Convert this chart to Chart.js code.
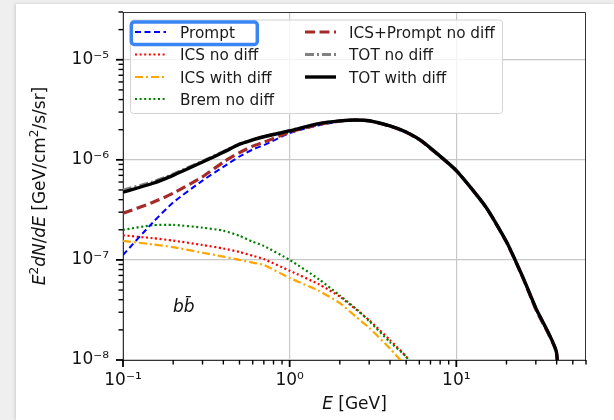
<!DOCTYPE html>
<html>
<head>
<meta charset="utf-8">
<script src="https://cdn.jsdelivr.net/npm/chart.js@4.4.1/dist/chart.umd.min.js"></script>
<style>
html, body { margin: 0; padding: 0; }
body { width: 614px; height: 420px; background: #efefef; position: relative; overflow: hidden; }
#sheet { position: absolute; left: 16px; top: 4px; right: 0; bottom: 0; background: #fff; box-shadow: -1px 0 3px rgba(0,0,0,0.15); }
#wrap { position: absolute; left: 0; top: 0; width: 614px; height: 420px; }
</style>
</head>
<body>
<div id="sheet"></div>
<div id="wrap"><canvas id="c" width="614" height="420"></canvas></div>
<script>
// energies in GeV (last point repeated for the cut-off at the DM mass)
const energy = [0.1, 0.15, 0.2, 0.3, 0.4, 0.5, 0.6, 0.7, 1, 1.5, 2, 2.5, 3, 4, 5, 6, 7, 10, 15, 20, 25, 30, 40, 40];

const prompt = [1.12e-7, 2.34e-7, 3.75e-7, 6.2e-7, 8.5e-7, 1.08e-6, 1.27e-6, 1.4e-6, 1.85e-6, 2.22e-6, 2.41e-6, 2.47e-6, 2.44e-6, 2.16e-6, 1.87e-6, 1.58e-6, 1.3e-6, 7.8e-7, 3.4e-7, 1.5e-7, 6.7e-8, 3.2e-8, 1.15e-8, 1e-9];
const icsNoDiff = [1.76e-7, 1.65e-7, 1.56e-7, 1.41e-7, 1.3e-7, 1.2e-7, 1.1e-7, 1.02e-7, 7.8e-8, 5.7e-8, 4.3e-8, 3.2e-8, 2.5e-8, 1.58e-8, 1.08e-8, 6.8e-9, null, null, null, null, null, null, null, null];
const icsWithDiff = [1.55e-7, 1.43e-7, 1.34e-7, 1.18e-7, 1.08e-7, 1.0e-7, 9.4e-8, 8.9e-8, 6.6e-8, 4.9e-8, 3.7e-8, 2.7e-8, 2.1e-8, 1.3e-8, 8.6e-9, null, null, null, null, null, null, null, null, null];
const bremNoDiff = [2.0e-7, 2.22e-7, 2.24e-7, 2.1e-7, 1.96e-7, 1.74e-7, 1.52e-7, 1.38e-7, 1.0e-7, 6.4e-8, 4.4e-8, 3.26e-8, 2.45e-8, 1.51e-8, 1.08e-8, 7e-9, null, null, null, null, null, null, null, null];
const icsPromptNoDiff = [2.93e-7, 3.74e-7, 4.64e-7, 6.76e-7, 9.5e-7, 1.18e-6, 1.37e-6, 1.5e-6, 1.89e-6, 2.26e-6, 2.44e-6, 2.49e-6, 2.45e-6, 2.17e-6, 1.88e-6, 1.59e-6, 1.3e-6, 7.8e-7, 3.4e-7, 1.5e-7, 6.7e-8, 3.2e-8, 1.15e-8, 1e-9];
const totNoDiff = [5.0e-7, 6.0e-7, 7.2e-7, 9.7e-7, 1.21e-6, 1.44e-6, 1.59e-6, 1.71e-6, 1.96e-6, 2.3e-6, 2.45e-6, 2.5e-6, 2.46e-6, 2.18e-6, 1.9e-6, 1.6e-6, 1.31e-6, 7.8e-7, 3.4e-7, 1.52e-7, 6.8e-8, 3.3e-8, 1.17e-8, 1e-9];
const totWithDiff = [4.75e-7, 5.8e-7, 7.0e-7, 9.5e-7, 1.19e-6, 1.43e-6, 1.58e-6, 1.7e-6, 1.95e-6, 2.3e-6, 2.45e-6, 2.5e-6, 2.46e-6, 2.18e-6, 1.9e-6, 1.6e-6, 1.31e-6, 7.8e-7, 3.4e-7, 1.52e-7, 6.8e-8, 3.3e-8, 1.17e-8, 1e-9];

const xTickValues = [0.1, 1, 10];
const xTickLabels = ['10\u207B\u00B9', '10\u2070', '10\u00B9'];
const yTickValues = [1e-8, 1e-7, 1e-6, 1e-5];
const yTickLabels = ['10\u207B\u2078', '10\u207B\u2077', '10\u207B\u2076', '10\u207B\u2075'];

const FONT = '"DejaVu Sans", sans-serif';

function pts(vals) {
    return energy.map((e, i) => ({ x: e, y: vals[i] }));
}

function series(label, vals, color, width, dash, order) {
    return {
        label: label,
        data: pts(vals),
        borderColor: color,
        borderWidth: width,
        borderDash: dash,
        order: order,
        fill: false,
        tension: 0.2,
        pointRadius: 0,
        spanGaps: false
    };
}

// legend order: left column then right column
const datasets = [
    series('Prompt', prompt, '#0000ff', 2, [6, 3.5], 3),
    series('ICS no diff', icsNoDiff, '#ff0000', 2.2, [2, 2.6], 5),
    series('ICS with diff', icsWithDiff, '#ffa500', 2.2, [8, 3, 2, 3], 6),
    series('Brem no diff', bremNoDiff, '#008000', 2.2, [2, 2.6], 4),
    series('ICS+Prompt no diff', icsPromptNoDiff, '#a52a2a', 3.2, [10, 4.5], 2),
    series('TOT no diff', totNoDiff, '#808080', 3.0, [9, 3, 2, 3], 1),
    series('TOT with diff', totWithDiff, '#000000', 3.4, [], 0)
];

function drawTickMarks(ctx, scale, horizontal) {
    const lo = Math.floor(Math.log10(scale.min));
    const hi = Math.ceil(Math.log10(scale.max));
    ctx.strokeStyle = '#000';
    for (let e = lo; e <= hi; e++) {
        for (let m = 1; m <= 9; m++) {
            const v = m * Math.pow(10, e);
            if (v < scale.min * 0.999 || v > scale.max * 1.001) continue;
            const major = m === 1;
            const len = major ? 7 : 4.5;
            const p = scale.getPixelForValue(v);
            ctx.lineWidth = major ? 1.8 : 1.4;
            ctx.beginPath();
            if (horizontal) {
                ctx.moveTo(p, scale.top);
                ctx.lineTo(p, scale.top + len);
            } else {
                ctx.moveTo(scale.right, p);
                ctx.lineTo(scale.right - len, p);
            }
            ctx.stroke();
        }
    }
}

// parts: [text, style]  style: 'i' italic, 's' superscript, '' plain
function drawRich(ctx, parts, cx, baseline, size) {
    const fontFor = st => (st === 'i' ? 'italic ' : '') + (st === 's' ? Math.round(size * 0.7) : size) + 'px ' + FONT;
    let w = 0;
    parts.forEach(([t, st]) => { ctx.font = fontFor(st); w += ctx.measureText(t).width; });
    let x = cx - w / 2;
    ctx.textAlign = 'left';
    ctx.textBaseline = 'alphabetic';
    parts.forEach(([t, st]) => {
        ctx.font = fontFor(st);
        ctx.fillText(t, x, st === 's' ? baseline - size * 0.4 : baseline);
        x += ctx.measureText(t).width;
    });
}

function roundRect(ctx, x, y, w, h, r) {
    ctx.beginPath();
    ctx.moveTo(x + r, y);
    ctx.arcTo(x + w, y, x + w, y + h, r);
    ctx.arcTo(x + w, y + h, x, y + h, r);
    ctx.arcTo(x, y + h, x, y, r);
    ctx.arcTo(x, y, x + w, y, r);
    ctx.closePath();
}

const decorPlugin = {
    id: 'decor',
    afterDraw(chart) {
        const ctx = chart.ctx;
        const a = chart.chartArea;
        ctx.save();

        // top and right spines
        ctx.strokeStyle = '#333';
        ctx.lineWidth = 1;
        ctx.beginPath();
        ctx.moveTo(a.left, a.top + 0.5);
        ctx.lineTo(a.right - 0.5, a.top + 0.5);
        ctx.lineTo(a.right - 0.5, a.bottom);
        ctx.stroke();

        drawTickMarks(ctx, chart.scales.x, true);
        drawTickMarks(ctx, chart.scales.y, false);

        // legend (two columns, matplotlib style)
        ctx.fillStyle = 'rgba(255,255,255,0.8)';
        roundRect(ctx, 130.5, 20, 372, 93.5, 3);
        ctx.fill();
        ctx.strokeStyle = '#d3d3d3';
        ctx.lineWidth = 1;
        ctx.stroke();

        const rows = [32, 54.5, 77, 99];
        const cols = [{ lx: 135, tx: 180 }, { lx: 305, tx: 349 }];
        chart.data.datasets.forEach((ds, i) => {
            const col = cols[i < 4 ? 0 : 1];
            const y = rows[i < 4 ? i : i - 4];
            ctx.strokeStyle = ds.borderColor;
            ctx.lineWidth = ds.borderWidth;
            ctx.setLineDash(ds.borderDash || []);
            ctx.beginPath();
            ctx.moveTo(col.lx, y);
            ctx.lineTo(col.lx + 31, y);
            ctx.stroke();
            ctx.setLineDash([]);
            ctx.fillStyle = '#1a1a1a';
            ctx.font = '15.3px ' + FONT;
            ctx.textAlign = 'left';
            ctx.textBaseline = 'alphabetic';
            ctx.fillText(ds.label, col.tx, y + 5.5);
        });

        // selection highlight around the first legend entry
        ctx.strokeStyle = '#3a85f5';
        ctx.lineWidth = 3.5;
        roundRect(ctx, 131.3, 22, 126, 22.5, 3);
        ctx.stroke();

        // axis titles
        ctx.fillStyle = '#111';
        drawRich(ctx, [['E', 'i'], [' [GeV]', '']], (a.left + a.right) / 2, 409, 17);
        ctx.save();
        ctx.translate(45, (a.top + a.bottom) / 2);
        ctx.rotate(-Math.PI / 2);
        drawRich(ctx, [['E', 'i'], ['2', 's'], ['dN', 'i'], ['/', ''], ['dE', 'i'], [' [GeV/cm', ''], ['2', 's'], ['/s/sr]', '']], 0, 0, 17);
        ctx.restore();

        // channel annotation
        ctx.font = 'italic 17px ' + FONT;
        ctx.textAlign = 'left';
        ctx.textBaseline = 'alphabetic';
        ctx.fillText('bb\u0304', 173, 312);

        ctx.restore();
    }
};

const tickFont = { family: FONT, size: 17 };

function noPad(s) {
    s.paddingTop = 0;
    s.paddingBottom = 0;
    s.paddingLeft = 0;
    s.paddingRight = 0;
}

new Chart(document.getElementById('c'), {
    type: 'line',
    data: { datasets: datasets },
    options: {
        responsive: false,
        animation: false,
        layout: { padding: { top: 12, right: 28, left: 0, bottom: 0 } },
        plugins: { legend: { display: false }, tooltip: { enabled: false } },
        scales: {
            x: {
                type: 'logarithmic',
                min: 0.1,
                max: 60,
                afterBuildTicks: s => { s.ticks = xTickValues.map(v => ({ value: v })); },
                afterFit: s => { s.height = 60; noPad(s); },
                grid: { color: '#c8c8c8', lineWidth: 1.2, drawTicks: false },
                border: { color: '#333', width: 1 },
                ticks: {
                    autoSkip: false, maxRotation: 0, padding: 10,
                    color: '#111', font: tickFont,
                    callback: (v, i) => xTickLabels[i]
                }
            },
            y: {
                type: 'logarithmic',
                min: 1e-8,
                max: 3e-5,
                afterBuildTicks: s => { s.ticks = yTickValues.map(v => ({ value: v })); },
                afterFit: s => { s.width = 123; noPad(s); },
                grid: { color: '#c8c8c8', lineWidth: 1.2, drawTicks: false },
                border: { color: '#333', width: 1 },
                ticks: {
                    autoSkip: false, padding: 14,
                    color: '#111', font: tickFont,
                    callback: (v, i) => yTickLabels[i]
                }
            }
        }
    },
    plugins: [decorPlugin]
});
</script>
</body>
</html>
